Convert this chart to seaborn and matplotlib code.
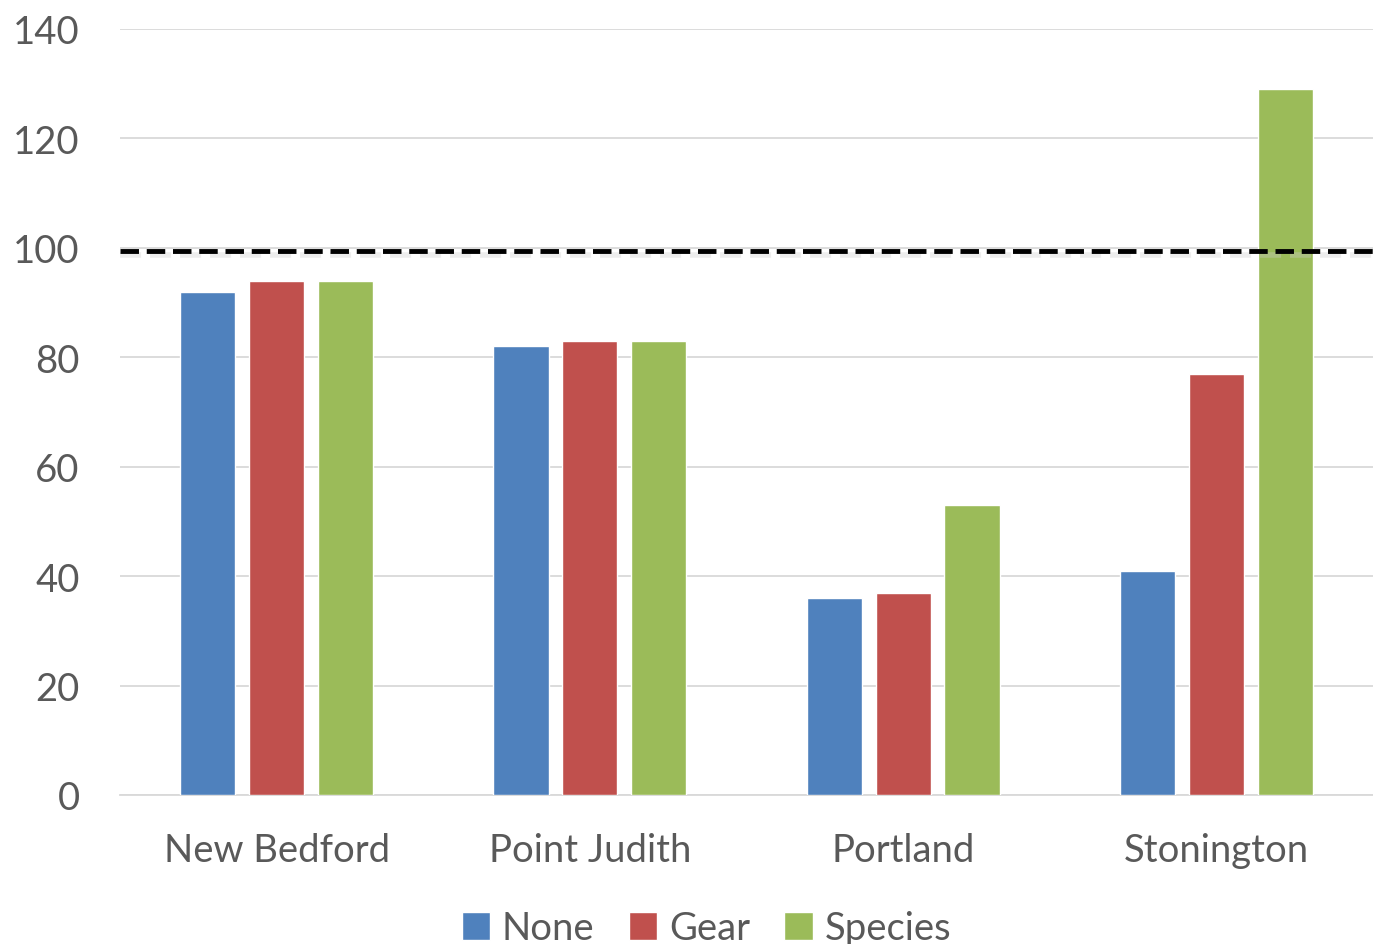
import pandas as pd
import numpy as np
import matplotlib
matplotlib.use("Agg")
import matplotlib.pyplot as plt
import seaborn as sns

# Values
ports = ["New Bedford", "Point Judith", "Portland", "Stonington"]
none_vals = [92, 82, 36, 41]
gear_vals = [94, 83, 37, 77]
species_vals = [94, 83, 53, 129]
series_names = ["None", "Gear", "Species"]
colors = ["#4F81BD", "#C0504D", "#9BBB59"]
y_ticks = [0, 20, 40, 60, 80, 100, 120, 140]
threshold = 99.4

df = pd.DataFrame({
    "Port": ports * 3,
    "Scenario": ["None"] * 4 + ["Gear"] * 4 + ["Species"] * 4,
    "Value": none_vals + gear_vals + species_vals,
})

sns.set_theme(style="white")
plt.rcParams["font.family"] = ["Lato", "DejaVu Sans"]
text_color = "#595959"

fig = plt.figure(figsize=(13.73, 9.45), dpi=100)
ax = fig.add_axes([0.0874, 0.1577, 0.9126, 0.8106])

sns.barplot(data=df, x="Port", y="Value", hue="Scenario", hue_order=series_names,
            palette=colors, width=0.66, gap=0.2, saturation=1, ax=ax, zorder=3)

ax.set_ylim(0, 140)
ax.set_yticks(y_ticks)
ax.set_xlim(-0.5, 3.5)
ax.grid(axis="y", color="#D9D9D9", linewidth=1.3, zorder=0)
ax.set_axisbelow(True)
for s in ["left", "right", "top"]:
    ax.spines[s].set_visible(False)
ax.spines["bottom"].set_color("#D9D9D9")
ax.spines["bottom"].set_linewidth(1.3)

# dashed threshold line with soft shadow
ax.axhline(threshold - 0.7, color="#CCCCCC", linewidth=4, linestyle=(0, (3.8, 1.6)), alpha=0.35, zorder=4)
ax.axhline(threshold, color="black", linewidth=3.5, linestyle=(0, (3.8, 1.6)), zorder=5)

ax.tick_params(axis="y", labelsize=27.5, labelcolor=text_color, length=0, pad=29)
ax.tick_params(axis="x", labelsize=27.5, labelcolor=text_color, length=0, pad=27)
ax.set_xlabel("")
ax.set_ylabel("")

leg = ax.legend(loc="lower center", bbox_to_anchor=(0.468, -0.242), ncol=3, frameon=False,
                fontsize=27.5, handlelength=0.75, handleheight=0.75, handletextpad=0.3,
                columnspacing=0.9, labelcolor=text_color)

fig.savefig("out.png", dpi=100)
